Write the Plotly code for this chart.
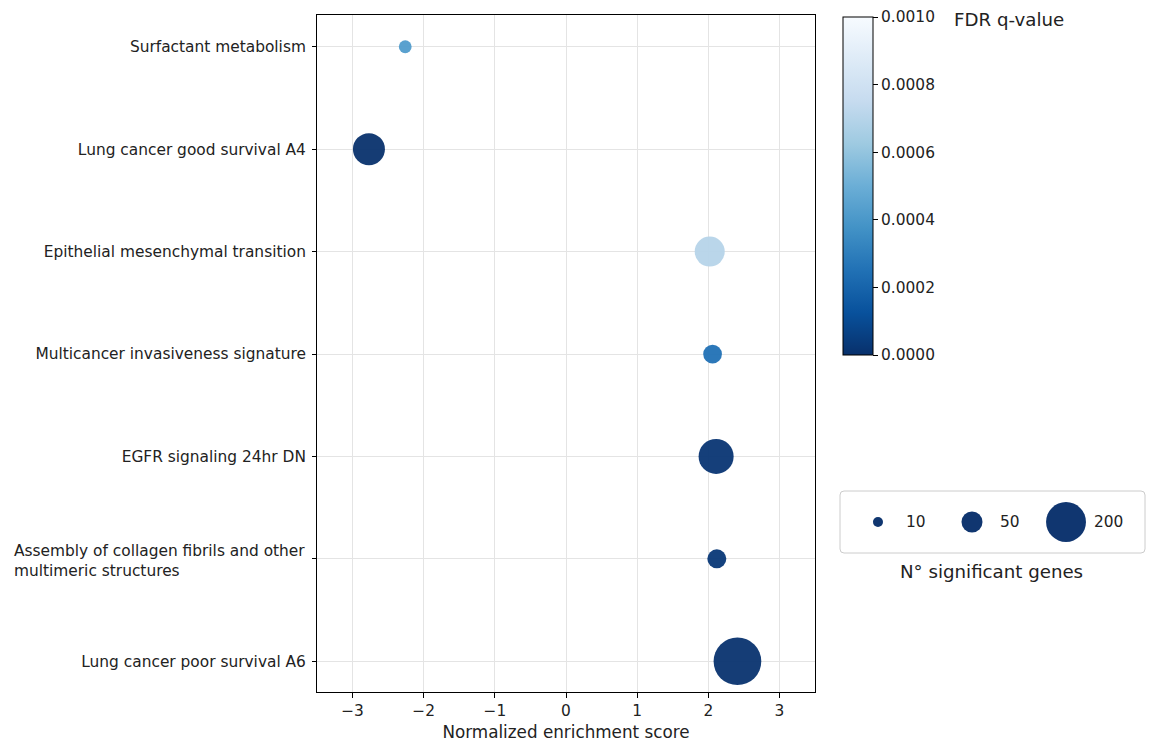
import plotly.graph_objects as go
from plotly.colors import sequential

# Gene-set enrichment results (top to bottom)
gene_sets = [
    "Surfactant metabolism",
    "Lung cancer good survival A4",
    "Epithelial mesenchymal transition",
    "Multicancer invasiveness signature",
    "EGFR signaling 24hr DN",
    "Assembly of collagen fibrils and other<br>multimeric structures",
    "Lung cancer poor survival A6",
]
nes = [-2.26, -2.77, 2.02, 2.06, 2.11, 2.12, 2.41]
fdr_q = [0.00042, 0.000005, 0.00070, 0.00025, 0.00002, 0.00003, 0.00001]
n_genes = [17, 124, 108, 39, 151, 40, 294]

legend_counts = [10, 50, 200]
x_ticks = [-3, -2, -1, 0, 1, 2, 3]
fdr_ticks = [0.0, 0.0002, 0.0004, 0.0006, 0.0008, 0.0010]

W, H = 1155, 742
FONT = "DejaVu Sans"
DARK = "#08306b"


def marker_diameter(n):
    # bubble diameter in px for a gene count
    return 10 * (n / 10) ** 0.462


rows = list(range(len(gene_sets)))[::-1]  # top row gets the highest position

fig = go.Figure()

fig.add_trace(go.Scatter(
    x=nes, y=rows, mode="markers",
    marker=dict(
        size=[marker_diameter(n) for n in n_genes],
        color=fdr_q, colorscale=sequential.Blues_r, cmin=0, cmax=0.001,
        opacity=0.95, line=dict(width=0),
        colorbar=dict(
            x=843 / W, xanchor="left", xpad=0,
            y=(H - 17) / H, yanchor="top", ypad=0,
            len=338, lenmode="pixels", thickness=30, thicknessmode="pixels",
            outlinewidth=1, outlinecolor="black",
            tickvals=fdr_ticks, tickformat=".4f",
            ticks="outside", ticklen=5, tickcolor="black",
            tickfont=dict(family=FONT, size=15.4, color="#222"),
        ),
    ),
    showlegend=False, hoverinfo="skip",
))

# Size key drawn on its own small axis pair
fig.add_trace(go.Scatter(
    x=list(range(len(legend_counts))), y=[0.5] * len(legend_counts),
    xaxis="x2", yaxis="y2", mode="markers",
    marker=dict(size=[marker_diameter(n) for n in legend_counts],
                color=DARK, opacity=0.97, line=dict(width=0)),
    showlegend=False, hoverinfo="skip",
))

tick_labels = [("" if "<br>" in g else g) for g in gene_sets]

fig.update_layout(
    width=W, height=H,
    margin=dict(l=0, r=0, t=0, b=0),
    paper_bgcolor="white", plot_bgcolor="white",
    font=dict(family=FONT, color="#222"),
    xaxis=dict(
        domain=[317 / W, 815 / W], range=[-3.5, 3.5],
        tickvals=x_ticks, ticks="outside", ticklen=5, tickcolor="black",
        tickfont=dict(size=15.4), showgrid=True, gridcolor="#e4e4e4", gridwidth=1,
        showline=True, linecolor="black", linewidth=1, mirror=True,
        zeroline=False,
        title=dict(text="Normalized enrichment score", font=dict(size=16.8), standoff=6),
    ),
    yaxis=dict(
        domain=[(H - 692) / H, (H - 15) / H], range=[-0.30, 6.31],
        tickvals=rows, ticktext=tick_labels, ticks="outside", ticklen=4,
        tickcolor="black", tickfont=dict(size=15.4), ticklabelstandoff=3,
        showgrid=True, gridcolor="#e4e4e4", gridwidth=1,
        showline=True, linecolor="black", linewidth=1, mirror=True,
        zeroline=False,
    ),
    xaxis2=dict(
        domain=[840 / W, 1145 / W], range=[-0.404, 2.84], anchor="y2",
        visible=False, fixedrange=True,
    ),
    yaxis2=dict(
        domain=[(H - 553) / H, (H - 491) / H], range=[0, 1], anchor="x2",
        visible=False, fixedrange=True,
    ),
)

# Box around the size key (rounded corners)
x0, x1 = 840 / W, 1145 / W
y0, y1 = (H - 553) / H, (H - 491) / H
rx, ry = 4 / W, 4 / H
box = (f"M {x0 + rx} {y0} L {x1 - rx} {y0} Q {x1} {y0} {x1} {y0 + ry} "
       f"L {x1} {y1 - ry} Q {x1} {y1} {x1 - rx} {y1} "
       f"L {x0 + rx} {y1} Q {x0} {y1} {x0} {y1 - ry} "
       f"L {x0} {y0 + ry} Q {x0} {y0} {x0 + rx} {y0} Z")
fig.add_shape(type="path", path=box, xref="paper", yref="paper",
              line=dict(color="#cccccc", width=1), layer="below")

annotations = []
for i, n in enumerate(legend_counts):
    annotations.append(dict(
        x=i, y=0.5, xref="x2", yref="y2", text=str(n), showarrow=False,
        xanchor="left", yanchor="middle", xshift=26,
        font=dict(size=15.4, family=FONT, color="#222"),
    ))

annotations.append(dict(
    x=991 / W, y=(H - 572) / H, xref="paper", yref="paper",
    text="N° significant genes", showarrow=False, yshift=1,
    xanchor="center", yanchor="middle", font=dict(size=18.2, family=FONT, color="#222"),
))
annotations.append(dict(
    x=952 / W, y=(H - 19) / H, xref="paper", yref="paper",
    text="FDR q-value", showarrow=False, yshift=-1,
    xanchor="left", yanchor="middle", font=dict(size=18.2, family=FONT, color="#222"),
))

# Two-line category label, left aligned
for g, r in zip(gene_sets, rows):
    if "<br>" in g:
        annotations.append(dict(
            x=317 / W, y=r, xref="paper", yref="y", text=g, showarrow=False,
            xanchor="right", yanchor="middle", align="left", xshift=-10, yshift=-2,
            font=dict(size=15.4, family=FONT, color="#222"),
        ))

fig.update_layout(annotations=annotations)

fig.write_html("out.html")
